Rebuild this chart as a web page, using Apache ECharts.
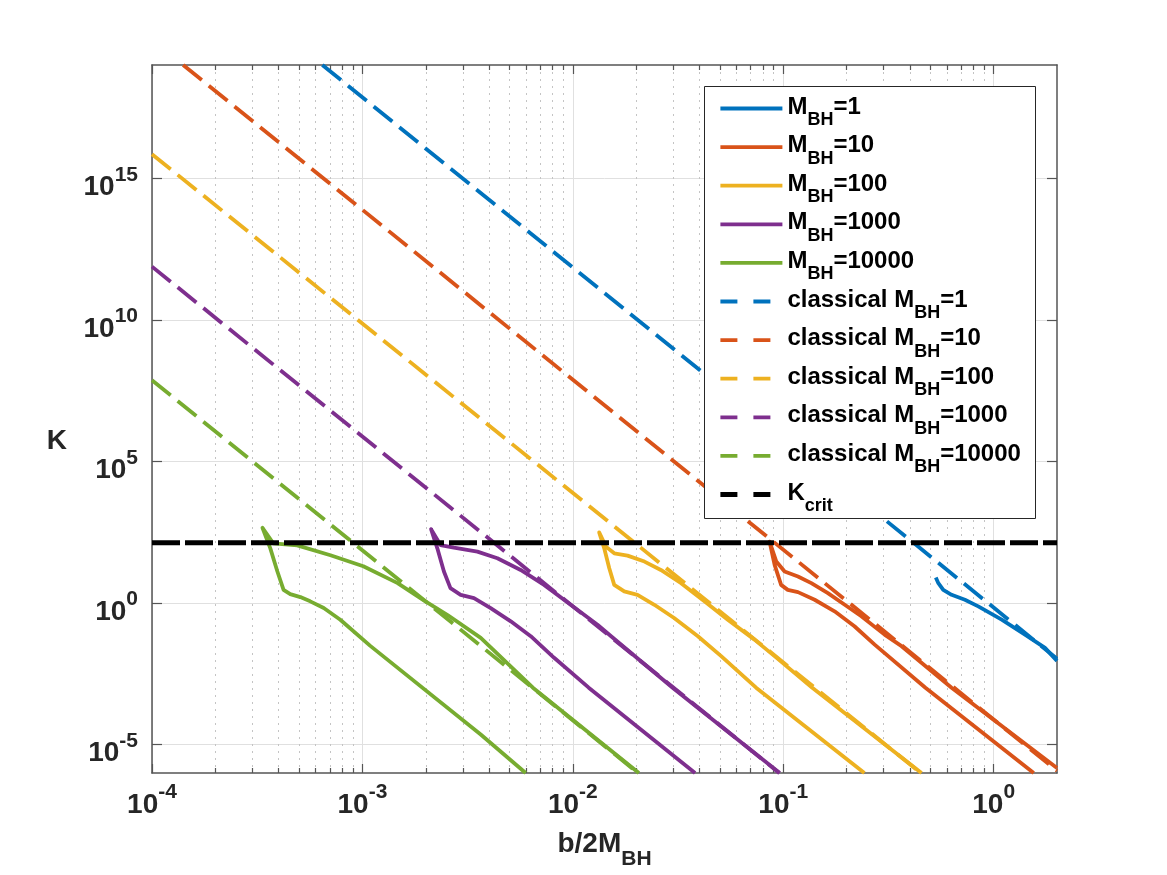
<!DOCTYPE html>
<html>
<head>
<meta charset="utf-8">
<title>K vs b/2M_BH</title>
<script src="https://cdn.jsdelivr.net/npm/echarts@6/dist/echarts.min.js"></script>
<style>
  html, body { margin: 0; padding: 0; background: #fff; }
  #chart { width: 1167px; height: 875px; }
</style>
</head>
<body>
<div id="chart"></div>
<script>
// values, points are [b/2M_BH, K]
const masses = [1, 10, 100, 1000, 10000];
const kCrit = 135;
const bRange = [1e-4, 2];
const kRange = [1e-6, 1e19];

// full curves (lower branch back up to the tip, then the upper branch)
const kM1 = [
  [0.531, 8.0], [0.546, 5.05], [0.576, 2.93], [0.631, 1.96], [0.730, 1.31],
  [0.845, 0.766], [1.092, 0.259], [1.409, 0.0769], [1.754, 0.0262], [2, 0.0091]
];
const kM10 = [
  [1.55, 1e-6], [0.474, 1.03e-3], [0.272, 0.0342], [0.218, 0.152], [0.1754, 0.511],
  [0.141, 1.31], [0.1175, 2.44], [0.1051, 2.93], [0.0977, 4.40], [0.0910, 22.2],
  [0.0861, 147],
  [0.0927, 29.2], [0.1015, 13.0], [0.1175, 8.68], [0.136, 5.05], [0.163, 2.25],
  [0.196, 0.871], [0.235, 0.341], [0.303, 0.0769], [0.365, 0.0301], [0.631, 1.03e-3],
  [2, 1.5e-6]
];
const kM100 = [
  [0.243, 1e-6], [0.0743, 1.03e-3], [0.0507, 0.0134], [0.0393, 0.0676], [0.0303, 0.297],
  [0.0244, 0.871], [0.0203, 1.96], [0.01755, 2.58], [0.01573, 4.40], [0.0149, 17.0],
  [0.0141, 85.7],
  [0.01334, 313],
  [0.01436, 98.4], [0.01573, 57.2], [0.0182, 47.5], [0.0219, 29.2], [0.0262, 14.8],
  [0.0327, 5.05], [0.0422, 1.15], [0.0545, 0.259], [0.073, 0.0513], [0.0909, 0.0134],
  [0.1374, 1.03e-3], [0.454, 1e-6]
];
const kM1000 = [
  [0.0381, 1e-6], [0.0119, 1.03e-3], [8.15e-3, 0.0117], [6.31e-3, 0.0676], [5.07e-3, 0.227],
  [4.07e-3, 0.667], [3.39e-3, 1.50], [2.93e-3, 1.96], [2.62e-3, 3.37], [2.44e-3, 13.0],
  [2.27e-3, 85.7],
  [2.12e-3, 409],
  [2.35e-3, 112], [2.72e-3, 90.8], [3.52e-3, 65.6], [4.38e-3, 38.2], [5.65e-3, 14.8],
  [7.30e-3, 4.40], [9.77e-3, 0.871], [0.0131, 0.173], [0.0152, 0.0676], [0.0298, 1.03e-3],
  [0.0962, 1e-6]
];
const kM10000 = [
  [5.97e-3, 1e-6], [3.65e-3, 2.29e-5], [1.09e-3, 0.0308], [7.85e-4, 0.259], [6.55e-4, 0.667],
  [5.65e-4, 1.15], [5.07e-4, 1.63], [4.54e-4, 2.07], [4.22e-4, 2.93], [3.94e-4, 13.3],
  [3.65e-4, 85.7],
  [3.35e-4, 458],
  [3.77e-4, 128], [4.90e-4, 109], [7.05e-4, 48.7], [1.01e-3, 20], [1.47e-3, 5.05],
  [1.95e-3, 1.27], [2.54e-3, 0.378], [3.65e-3, 0.0589], [6.46e-3, 1.03e-3],
  [0.0206, 1e-6]
];

// classical straight lines, end points where they leave the box
const classicalM1 = [[6.45e-4, 1e19], [2, 0.0108]];
const classicalM10 = [[1.406e-4, 1e19], [2, 1.2e-6]];
const classicalM100 = [[1e-4, 7.1e15], [0.45, 1e-6]];
const classicalM1000 = [[1e-4, 7.6e11], [0.0957, 1e-6]];
const classicalM10000 = [[1e-4, 7.4e7], [0.0204, 1e-6]];

// ticks (decade exponents)
const xMajor = [-4, -3, -2, -1, 0];
const yMajor = [-5, 0, 5, 10, 15];

const colors = ['#0072BD', '#D95319', '#EDB120', '#7E2F8E', '#77AC30'];
const font = '"Liberation Sans", Arial, Helvetica, sans-serif';
const axisColor = '#555555';

const xMinor = [];
for (let d = -4; d <= -1; d++) {
  for (let k = 2; k <= 9; k++) xMinor.push(d + Math.log10(k));
}

const toLog = pts => pts.map(p => [Math.log10(p[0]), Math.log10(p[1])]);

// 'M_{BH}=1' -> rich text with subscript
function tex(s, main, sub) {
  const m = s.match(/^([^_]*)_\{([^}]*)\}(.*)$/);
  if (!m) return '{' + main + '|' + s + '}';
  return '{' + main + '|' + m[1] + '}{' + sub + '|' + m[2] + '}' + (m[3] ? '{' + main + '|' + m[3] + '}' : '');
}

// 10^n labels, superscript raised with top padding on the base
const tickRich = {
  b: { fontSize: 28, fontWeight: 'bold', fontFamily: font, color: '#262626', lineHeight: 28, padding: [9, 0, 2, 0], verticalAlign: 'top' },
  s: { fontSize: 21, fontWeight: 'bold', fontFamily: font, color: '#262626', lineHeight: 21, verticalAlign: 'top' }
};
const powLabel = v => '{b|10}{s|' + Math.round(v) + '}';

const chart = echarts.init(document.getElementById('chart'));

const solidSets = [kM1, kM10, kM100, kM1000, kM10000];
const classicalSets = [classicalM1, classicalM10, classicalM100, classicalM1000, classicalM10000];

const series = [];
const legendData = [];
solidSets.forEach((pts, i) => {
  const name = 'M_{BH}=' + masses[i];
  series.push({
    name: name,
    type: 'line',
    data: toLog(pts),
    symbol: 'none',
    lineStyle: { color: colors[i], width: 3.8, join: 'round' },
    itemStyle: { color: colors[i] },
    z: 2
  });
  legendData.push({ name: name });
});
classicalSets.forEach((pts, i) => {
  const name = 'classical M_{BH}=' + masses[i];
  series.push({
    name: name,
    type: 'line',
    data: toLog(pts),
    symbol: 'none',
    lineStyle: { color: colors[i], width: 3.8, type: [24, 9] },
    itemStyle: { color: colors[i] },
    z: 3
  });
  legendData.push({ name: name, lineStyle: { type: [17, 16], width: 3.8 } });
});
series.push({
  name: 'K_{crit}',
  type: 'line',
  data: toLog([[bRange[0], kCrit], [bRange[1], kCrit]]),
  symbol: 'none',
  lineStyle: { color: '#000', width: 5, type: [28, 5] },
  itemStyle: { color: '#000' },
  z: 4
});
legendData.push({ name: 'K_{crit}', lineStyle: { type: [17, 16], width: 4.8 } });

const xMin = Math.log10(bRange[0]);
const xMax = Math.log10(bRange[1]);
const yMin = Math.log10(kRange[0]);
const yMax = Math.log10(kRange[1]);
const axisLine = { show: true, onZero: false, lineStyle: { color: axisColor, width: 1.5 } };
const tickLine = { color: axisColor, width: 1.2 };

const option = {
  animation: false,
  backgroundColor: '#fff',
  grid: { left: 152, top: 65, width: 905, height: 711, containLabel: false },
  xAxis: [
    {
      type: 'value', min: xMin, max: xMax, position: 'bottom',
      axisLine: axisLine,
      axisTick: { show: true, inside: true, length: 9, customValues: xMajor, lineStyle: tickLine },
      axisLabel: { show: true, customValues: xMajor, margin: 9, formatter: powLabel, rich: tickRich },
      splitLine: { show: true, lineStyle: { color: '#e0e0e0', width: 1 } },
      name: tex('b/2M_{BH}', 'm', 's'),
      nameLocation: 'middle',
      nameGap: 57,
      nameTextStyle: {
        rich: {
          m: { fontSize: 28, fontWeight: 'bold', fontFamily: font, color: '#262626', lineHeight: 30, verticalAlign: 'top' },
          s: { fontSize: 21, fontWeight: 'bold', fontFamily: font, color: '#262626', lineHeight: 21, padding: [19, 0, 0, 0], verticalAlign: 'top' }
        }
      }
    },
    {
      type: 'value', min: xMin, max: xMax, position: 'bottom',
      axisLine: { show: false, onZero: false },
      axisTick: { show: true, inside: true, length: 5, customValues: xMinor, lineStyle: tickLine },
      axisLabel: { show: false },
      splitLine: { show: true, lineStyle: { color: '#c4c4c4', width: 1, type: [2, 5] } }
    },
    {
      type: 'value', min: xMin, max: xMax, position: 'top',
      axisLine: axisLine,
      axisTick: { show: true, inside: true, length: 9, customValues: xMajor, lineStyle: tickLine },
      axisLabel: { show: false },
      splitLine: { show: false }
    },
    {
      type: 'value', min: xMin, max: xMax, position: 'top',
      axisLine: { show: false, onZero: false },
      axisTick: { show: true, inside: true, length: 5, customValues: xMinor, lineStyle: tickLine },
      axisLabel: { show: false },
      splitLine: { show: false }
    }
  ],
  yAxis: [
    {
      type: 'value', min: yMin, max: yMax, position: 'left',
      axisLine: axisLine,
      axisTick: { show: true, inside: true, length: 10, customValues: yMajor, lineStyle: tickLine },
      axisLabel: { show: true, customValues: yMajor, margin: 14, formatter: powLabel, rich: tickRich },
      splitLine: { show: true, lineStyle: { color: '#e0e0e0', width: 1 } },
      name: '{k|K}',
      nameLocation: 'middle',
      nameRotate: 0,
      nameGap: 85,
      nameTextStyle: {
        rich: {
          k: { fontSize: 28, fontWeight: 'bold', fontFamily: font, color: '#262626', lineHeight: 28, padding: [22, 0, 0, 0], verticalAlign: 'top' }
        }
      }
    },
    {
      type: 'value', min: yMin, max: yMax, position: 'right',
      axisLine: axisLine,
      axisTick: { show: true, inside: true, length: 10, customValues: yMajor, lineStyle: tickLine },
      axisLabel: { show: false },
      splitLine: { show: false }
    }
  ],
  graphic: [
    {
      type: 'rect',
      z: 10,
      shape: { x: 704.5, y: 86.5, width: 331, height: 432 },
      style: { fill: '#fff', stroke: '#262626', lineWidth: 1 }
    }
  ],
  legend: {
    orient: 'vertical',
    left: 718,
    top: 95,
    padding: 0,
    itemGap: 4.6,
    itemWidth: 62,
    itemHeight: 14,
    z: 20,
    selectedMode: false,
    data: legendData,
    lineStyle: { width: 3.8 },
    itemStyle: { opacity: 0, borderWidth: 0 },
    formatter: name => tex(name, 't', 's'),
    textStyle: {
      color: '#000', fontSize: 24, fontWeight: 'bold', fontFamily: font,
      rich: {
        t: { fontSize: 24, fontWeight: 'bold', fontFamily: font, color: '#000', lineHeight: 27, verticalAlign: 'top' },
        s: { fontSize: 18, fontWeight: 'bold', fontFamily: font, color: '#000', lineHeight: 18, padding: [16, 0, 0, 0], verticalAlign: 'top' }
      }
    }
  },
  series: series
};

chart.setOption(option);
</script>
</body>
</html>
